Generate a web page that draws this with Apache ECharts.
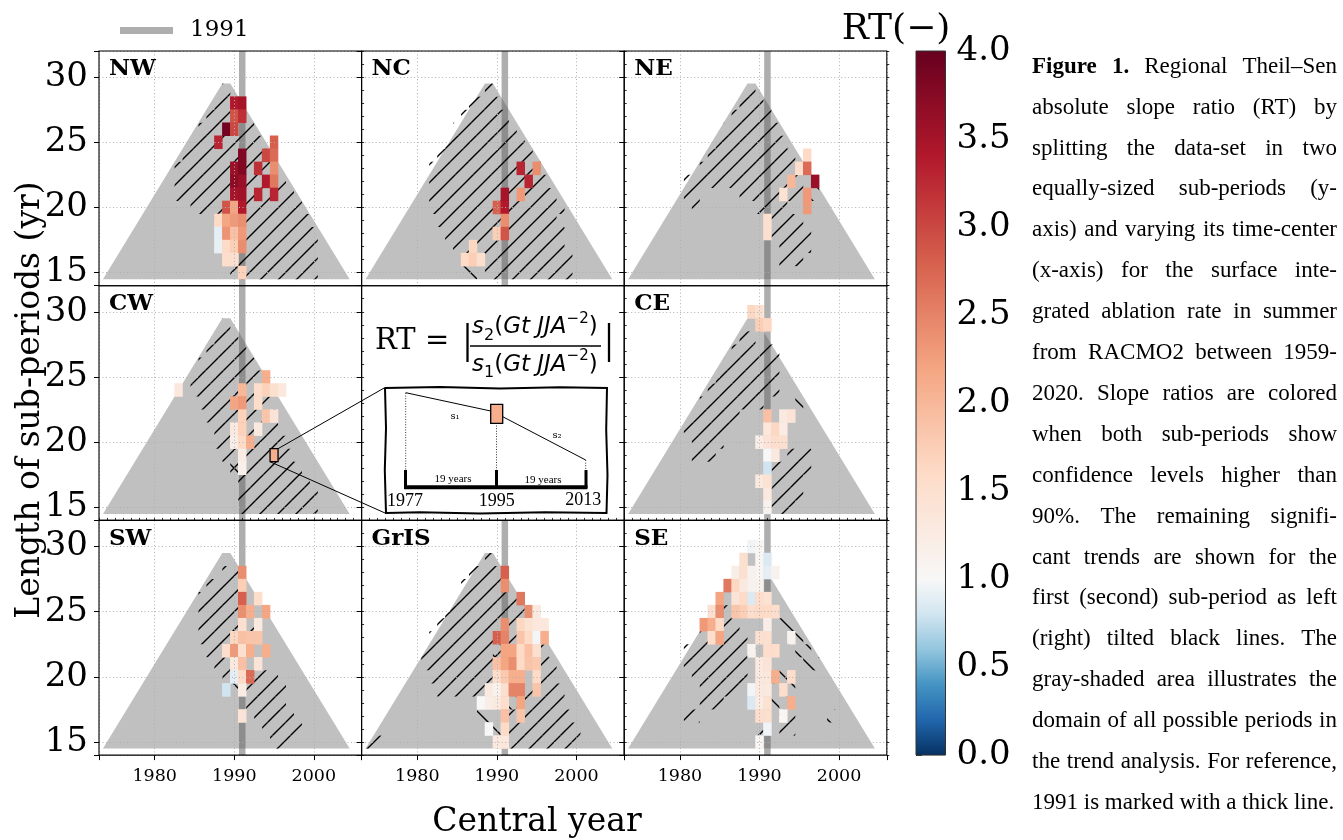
<!DOCTYPE html>
<html>
<head>
<meta charset="utf-8">
<title>Regional Theil–Sen slope ratio</title>
<script src="https://cdn.jsdelivr.net/npm/echarts@6.0.0/dist/echarts.min.js"></script>
<style>
html,body{margin:0;padding:0;background:#fff;}
#chart{width:1343px;height:840px;}
</style>
</head>
<body>
<div id="chart"></div>
<script>
// ================= DATA =================
const REGION_NAMES = ['NW', 'NC', 'NE', 'CW', '', 'CE', 'SW', 'GrIS', 'SE'];
const X_TICKS = [1980, 1990, 2000];
const Y_TICKS = [15, 20, 25, 30];
const CB_TICKS = [0, 0.5, 1, 1.5, 2, 2.5, 3, 3.5, 4];
const X_RANGE = [1973, 2006];
const Y_RANGE = [14, 32];
const CB_RANGE = [0, 4];
const CB_CENTER = 1;
const MARK_YEAR = 1991;
// domain of all possible periods: [central year, length]
const DOMAIN = [[1973.5, 14.5], [2004.5, 14.5], [1989.5, 29.5], [1988.5, 29.5]];
// highlighted example cell (CW): [central year, length, RT]
const INSET_CELL = [1995, 19, 2.1];

// colored cells: [central year, sub-period length, RT]
const NW_CELLS = [
  [1990,28,3.4],[1991,28,3.5],
  [1990,27,2.9],[1991,27,3.2],
  [1989,26,3.9],[1990,26,3.0],
  [1988,25,3.3],[1995,25,2.8],
  [1991,24,3.8],[1994,24,3.0],[1995,24,2.7],
  [1990,23,3.6],[1991,23,3.8],[1993,23,3.2],[1995,23,2.4],
  [1990,22,3.7],[1991,22,3.6],[1994,22,3.4],[1995,22,2.6],
  [1990,21,3.5],[1991,21,3.55],[1993,21,3.3],[1995,21,3.3],
  [1989,20,2.9],[1990,20,2.2],[1991,20,3.4],
  [1988,19,1.6],[1989,19,2.2],[1990,19,2.3],[1991,19,2.4],
  [1988,18,0.9],[1989,18,2.35],[1990,18,1.9],[1991,18,2.3],
  [1988,17,0.92],[1989,17,1.6],[1990,17,1.75],[1991,17,2.4],
  [1989,16,1.55],[1990,16,1.5],
  [1991,15,1.7]
];
const NC_CELLS = [
  [1993,23,3.3],[1995,23,2.4],
  [1994,22,3.3],
  [1991,21,3.5],[1993,21,2.3],
  [1990,20,2.8],[1991,20,3.4],
  [1991,19,2.4],
  [1990,18,1.75],[1991,18,2.9],
  [1987,17,1.65],
  [1986,16,1.6],[1987,16,1.75],[1988,16,1.5]
];
const NE_CELLS = [
  [1996,24,1.6],
  [1995,23,1.55],[1996,23,2.7],
  [1994,22,2.0],[1997,22,3.6],
  [1993,21,1.45],[1996,21,2.3],
  [1996,20,2.3],
  [1991,19,1.5],[1991,18,1.5]
];
const CW_CELLS = [
  [1994,25,2.1],
  [1983,24,1.35],[1991,24,2.0],[1993,24,1.55],[1994,24,1.7],[1995,24,1.5],[1996,24,1.35],
  [1990,23,2.2],[1991,23,2.3],[1993,23,1.55],
  [1991,22,1.7],[1994,22,1.85],[1995,22,1.4],
  [1990,21,1.3],[1991,21,1.7],[1993,21,1.3],
  [1990,20,1.2],[1991,20,1.6],[1992,20,2.1],
  [1991,19,1.25],
  [1991,18,1.15]
];
const CE_CELLS = [
  [1989,30,1.65],[1990,30,1.5],
  [1990,29,1.75],[1991,29,1.65],
  [1991,22,1.9],[1993,22,1.3],[1994,22,1.4],
  [1991,21,1.35],[1992,21,1.65],[1993,21,1.25],
  [1990,20,1.2],[1991,20,1.4],[1992,20,1.55],[1993,20,1.5],
  [1991,19,1.0],[1992,19,1.3],
  [1991,18,0.8],
  [1990,17,1.3],[1991,17,1.45],
  [1991,16,1.3],
  [1991,15,1.1]
];
const SW_CELLS = [
  [1991,28,2.4],
  [1991,27,1.75],
  [1991,26,2.8],[1993,26,1.55],
  [1991,25,2.4],[1992,25,2.1],[1994,25,2.2],
  [1991,24,1.5],[1993,24,1.3],
  [1990,23,1.65],[1991,23,1.9],[1992,23,1.85],[1993,23,1.85],
  [1989,22,1.55],[1990,22,2.3],[1991,22,1.5],[1992,22,2.1],[1994,22,2.1],
  [1990,21,1.3],[1991,21,1.9],[1993,21,1.4],
  [1990,20,0.9],[1991,20,1.6],[1992,20,2.7],
  [1989,19,0.8],[1991,19,1.25],
  [1991,17,1.4]
];
const GRIS_CELLS = [
  [1991,28,2.8],
  [1991,27,2.4],
  [1993,26,2.6],
  [1994,25,2.4],[1995,25,1.3],
  [1991,24,2.4],[1993,24,1.65],[1994,24,1.45],[1995,24,1.35],[1996,24,1.35],
  [1990,23,2.8],[1991,23,2.5],[1993,23,1.85],[1994,23,1.6],[1995,23,0.98],[1996,23,2.1],
  [1991,22,2.2],[1992,22,2.2],[1993,22,1.6],[1994,22,1.9],[1995,22,1.5],
  [1990,21,1.9],[1991,21,2.2],[1992,21,2.4],[1993,21,1.6],[1994,21,1.85],[1995,21,1.8],
  [1990,20,1.55],[1991,20,1.8],[1992,20,2.1],[1993,20,2.1],[1995,20,1.6],
  [1989,19,1.3],[1990,19,1.1],[1991,19,1.5],[1992,19,2.5],[1993,19,2.5],[1995,19,1.85],
  [1988,18,1.0],[1989,18,1.2],[1990,18,1.3],[1991,18,1.55],[1993,18,2.2],
  [1991,17,1.9],[1993,17,1.85],
  [1989,16,1.0],[1991,16,1.6],
  [1990,15,1.3],[1991,15,1.35]
];
const SE_CELLS = [
  [1989,30,0.97],[1990,30,1.05],
  [1988,29,1.5],[1990,29,1.05],[1991,29,0.85],
  [1987,28,1.2],[1988,28,1.5],[1989,28,1.1],[1990,28,1.05],[1991,28,0.9],[1992,28,1.1],
  [1986,27,2.6],[1987,27,1.65],[1988,27,1.3],[1989,27,1.1],[1990,27,1.1],
  [1985,26,2.2],[1987,26,1.4],[1988,26,1.6],[1989,26,0.85],[1990,26,1.55],[1991,26,1.45],
  [1984,25,1.5],[1985,25,2.4],[1987,25,1.85],[1988,25,1.75],[1989,25,1.55],[1990,25,1.6],[1991,25,1.6],[1992,25,1.55],
  [1983,24,2.3],[1984,24,2.1],[1985,24,1.6],[1991,24,1.2],
  [1984,23,1.55],[1985,23,2.2],[1990,23,1.5],[1991,23,1.5],[1994,23,1.1],
  [1989,22,1.1],[1991,22,1.55],[1992,22,1.55],
  [1990,21,1.3],[1991,21,1.4],
  [1990,20,1.3],[1991,20,1.35],[1992,20,2.1],[1994,20,1.55],
  [1989,19,0.97],[1990,19,1.3],[1991,19,1.3],[1993,19,1.55],
  [1989,18,0.85],[1990,18,1.25],[1991,18,1.45],[1994,18,2.1],
  [1990,17,1.55],[1991,17,1.5],[1993,17,1.05],
  [1991,16,0.97],
  [1990,15,1.05]
];

// significant first sub-period only ("/" lines): [first year, last year, length]
const NW_FIRST = [
  [1989,1989,29],[1988,1990,28],[1987,1991,27],[1986,1992,26],[1985,1993,25],[1984,1994,24],
  [1983,1995,23],[1983,1996,22],[1983,1997,21],[1985,1998,20],[1988,1999,19],[1989,2000,18],
  [1990,2000,17],[1990,2000,16],[1990,2000,15]
];
const NC_FIRST = [
  [1989,1989,29],[1987,1990,28],[1986,1991,27],[1985,1992,26],[1984,1993,25],[1983,1994,24],
  [1982,1995,23],[1982,1996,22],[1982,1997,21],[1982,1998,20],[1983,1997,19],[1984,1998,18],
  [1985,1998,17],[1988,1999,16],[1989,1999,15]
];
const NE_FIRST = [
  [1989,1989,29],[1988,1990,28],[1987,1991,27],[1986,1992,26],[1985,1993,25],[1984,1994,24],
  [1983,1994,23],[1981,1995,22],[1981,1982,21],[1988,1995,21],[1982,1982,20],[1990,1993,20],
  [1992,1995,19],[1992,1996,18],[1993,1996,17],[1993,1995,16]
];
const CW_FIRST = [
  [1989,1989,29],[1988,1990,28],[1987,1991,27],[1986,1992,26],[1985,1993,25],[1985,1993,24],
  [1986,1994,23],[1987,1995,22],[1988,1995,21],[1988,1996,20],[1989,1997,19],[1990,1998,18],
  [1991,1999,17],[1991,2000,16],[1991,2000,15]
];
const CE_FIRST = [
  [1988,1989,28],[1987,1992,27],[1986,1992,26],[1985,1992,25],[1984,1992,24],[1983,1990,23],
  [1982,1987,22],[1981,1986,21],[1982,1985,20],[1982,1984,19],[1994,1996,19],[1992,1996,18],
  [1992,1995,17],[1992,1995,16],[1992,1994,15]
];
const SW_FIRST = [
  [1989,1990,28],[1987,1990,27],[1986,1990,26],[1986,1991,25],[1986,1992,24],[1986,1992,23],
  [1987,1991,22],[1988,1990,21],[1989,1989,20],[1992,1995,20],[1992,1996,19],[1992,1996,18],
  [1993,1997,17],[1994,1998,16],[1995,1997,15]
];
const GRIS_FIRST = [
  [1989,1989,29],[1987,1990,28],[1986,1991,27],[1985,1992,26],[1984,1993,25],[1983,1992,24],
  [1982,1992,23],[1981,1992,22],[1996,1996,22],[1981,1990,21],[1996,1997,21],[1982,1989,20],
  [1996,1997,20],[1983,1988,19],[1994,1998,19],[1993,1998,18],[1992,1999,17],[1992,2000,16],
  [1992,2000,15],[1974,1975,15]
];
const SE_FIRST = [
  [1985,1986,25],[1984,1987,24],[1983,1988,23],[1981,1989,22],[1981,1988,21],[1982,1988,20],
  [1983,1987,19],[1983,1985,18],[1981,1982,17],[1993,1994,17],[1990,1990,16],[1993,1994,16]
];
// significant second sub-period only ("\" lines)
const NW_SECOND = [];
const NC_SECOND = [[1986,1987,15]];
const NE_SECOND = [[1997,1997,21]];
const CW_SECOND = [[1990,1990,18]];
const CE_SECOND = [[1995,1995,23]];
const SW_SECOND = [[1990,1990,19]];
const GRIS_SECOND = [[1988,1989,17],[1990,1990,16],[1990,1990,22],[1992,1992,18]];
const SE_SECOND = [[1993,1994,24],[1994,1995,23],[1995,1996,22],[1996,1997,21],[1992,1993,20],[1993,1994,19],[1992,1992,18],[1999,1999,17]];

const CAPTION_LINES = [
  'Figure 1. Regional Theil–Sen',
  'absolute slope ratio (RT) by',
  'splitting the data-set in two',
  'equally-sized sub-periods (y-',
  'axis) and varying its time-center',
  '(x-axis) for the surface inte-',
  'grated ablation rate in summer',
  'from RACMO2 between 1959-',
  '2020. Slope ratios are colored',
  'when both sub-periods show',
  'confidence levels higher than',
  '90%. The remaining signifi-',
  'cant trends are shown for the',
  'first (second) sub-period as left',
  '(right) tilted black lines. The',
  'gray-shaded area illustrates the',
  'domain of all possible periods in',
  'the trend analysis. For reference,',
  '1991 is marked with a thick line.'
];

const PANEL_DATA = {
  NW: [NW_CELLS, NW_FIRST, NW_SECOND],
  NC: [NC_CELLS, NC_FIRST, NC_SECOND],
  NE: [NE_CELLS, NE_FIRST, NE_SECOND],
  CW: [CW_CELLS.concat([INSET_CELL]), CW_FIRST, CW_SECOND],
  CE: [CE_CELLS, CE_FIRST, CE_SECOND],
  SW: [SW_CELLS, SW_FIRST, SW_SECOND],
  GrIS: [GRIS_CELLS, GRIS_FIRST, GRIS_SECOND],
  SE: [SE_CELLS, SE_FIRST, SE_SECOND]
};

// ================= STYLE / LAYOUT =================
const SERIF = 'DejaVu Serif';
const LAYOUT = { left: 99, top: 51, w: 262.6, h: 234.7 };
const CB = { left: 916, top: 51, w: 29.5, h: 704.1 };
const CAP = { left: 1032, right: 1337, top: 66.7, lh: 40.9 };
const DOMAIN_GRAY = '#c0c0c0';
const MARK_COLOR = 'rgba(85,85,85,0.48)';
const GRID_LINE = { color: '#b0b0b0', width: 1, type: [1, 2.5] };
const RDBU_R = ['#053061','#2166ac','#4393c3','#92c5de','#d1e5f0','#f7f7f7','#fddbc7','#f4a582','#d6604d','#b2182b','#67001f'];

function hexToRgb(h) { return [parseInt(h.slice(1,3),16), parseInt(h.slice(3,5),16), parseInt(h.slice(5,7),16)]; }
const RDBU_RGB = RDBU_R.map(hexToRgb);
function rtColor(v) {
  let t = v <= CB_CENTER
    ? 0.5 * (v - CB_RANGE[0]) / (CB_CENTER - CB_RANGE[0])
    : 0.5 + 0.5 * (v - CB_CENTER) / (CB_RANGE[1] - CB_CENTER);
  t = Math.max(0, Math.min(1, t));
  const s = t * (RDBU_RGB.length - 1);
  const i = Math.min(Math.floor(s), RDBU_RGB.length - 2);
  const f = s - i, a = RDBU_RGB[i], b = RDBU_RGB[i + 1];
  return 'rgb(' + a.map((c, k) => Math.round(c + (b[k] - c) * f)).join(',') + ')';
}

function makeHatch(dir) {
  const s = 18, cv = document.createElement('canvas');
  cv.width = s; cv.height = s;
  const g = cv.getContext('2d');
  g.strokeStyle = '#000'; g.lineWidth = 1.4;
  g.beginPath();
  if (dir > 0) {
    g.moveTo(0, s); g.lineTo(s, 0);
    g.moveTo(-2, 2); g.lineTo(2, -2);
    g.moveTo(s - 2, s + 2); g.lineTo(s + 2, s - 2);
  } else {
    g.moveTo(0, 0); g.lineTo(s, s);
    g.moveTo(s - 2, -2); g.lineTo(s + 2, 2);
    g.moveTo(-2, s - 2); g.lineTo(2, s + 2);
  }
  g.stroke();
  return { image: cv, repeat: 'repeat' };
}
const HATCH_FWD = makeHatch(1);
const HATCH_BACK = makeHatch(-1);

// ================= BUILD =================
const grids = [], xAxes = [], yAxes = [], series = [], graphics = [];

function hatchSeries(p, data, pattern) {
  return {
    type: 'custom', coordinateSystem: 'cartesian2d', xAxisIndex: 2 * p, yAxisIndex: 2 * p,
    z: 3, silent: true, data: data,
    renderItem: function (params, api) {
      const a = api.coord([api.value(0) - 0.5, api.value(2) + 0.5]);
      const b = api.coord([api.value(1) + 0.5, api.value(2) - 0.5]);
      return { type: 'rect', shape: { x: a[0], y: a[1], width: b[0] - a[0], height: b[1] - a[1] }, style: { fill: pattern } };
    }
  };
}

REGION_NAMES.forEach(function (name, p) {
  const r = Math.floor(p / 3), c = p % 3;
  const left = LAYOUT.left + c * LAYOUT.w, top = LAYOUT.top + r * LAYOUT.h;
  const bottomRow = r === 2, leftCol = c === 0, empty = !name;
  grids.push({ left: left, top: top, width: LAYOUT.w, height: LAYOUT.h });
  // major x
  xAxes.push({
    gridIndex: p, type: 'value', min: X_RANGE[0], max: X_RANGE[1], splitNumber: 3, z: 6,
    axisLine: { show: false },
    axisTick: { show: bottomRow, length: 5, lineStyle: { color: '#000', width: 1 } },
    axisLabel: { show: bottomRow, formatter: v => X_TICKS.includes(v) ? String(v) : '', fontSize: 17.5, fontFamily: SERIF, color: '#000', margin: 12 },
    splitLine: { show: !empty, lineStyle: GRID_LINE }
  });
  // minor x
  xAxes.push({
    gridIndex: p, type: 'value', min: X_RANGE[0], max: X_RANGE[1], interval: 1, show: bottomRow, z: 6,
    axisLine: { show: false }, axisLabel: { show: false }, splitLine: { show: false },
    axisTick: { show: true, length: 2.5, lineStyle: { color: '#000', width: 0.8 } }
  });
  // major y
  yAxes.push({
    gridIndex: p, type: 'value', min: Y_RANGE[0], max: Y_RANGE[1], splitNumber: 4, z: 6,
    axisLine: { show: false },
    axisTick: { show: true, length: 5, lineStyle: { color: '#000', width: 1 } },
    axisLabel: { show: leftCol, formatter: v => Y_TICKS.includes(v) ? String(v) : '', fontSize: 34, fontFamily: SERIF, color: '#000', margin: 11 },
    splitLine: { show: !empty, lineStyle: GRID_LINE }
  });
  // minor y
  yAxes.push({
    gridIndex: p, type: 'value', min: Y_RANGE[0], max: Y_RANGE[1], interval: 1, z: 6,
    axisLine: { show: false }, axisLabel: { show: false }, splitLine: { show: false },
    axisTick: { show: true, length: 2.5, lineStyle: { color: '#000', width: 0.8 } }
  });
  // frame
  graphics.push({ type: 'rect', z: 20, silent: true, shape: { x: left, y: top, width: LAYOUT.w, height: LAYOUT.h }, style: { fill: 'none', stroke: '#000', lineWidth: 1.1 } });
  if (empty) return;
  graphics.push({ type: 'text', z: 20, silent: true, x: left + 10, y: top + 18.5, style: { text: name, fontFamily: SERIF, fontWeight: 'bold', fontSize: 23, fill: '#000', verticalAlign: 'middle', align: 'left' } });

  const d = PANEL_DATA[name];
  // gray domain
  series.push({
    type: 'custom', coordinateSystem: 'cartesian2d', xAxisIndex: 2 * p, yAxisIndex: 2 * p, z: 1, silent: true,
    data: [[DOMAIN[0][0], DOMAIN[0][1]]],
    renderItem: function (params, api) {
      return { type: 'polygon', shape: { points: DOMAIN.map(pt => api.coord(pt)) }, style: { fill: DOMAIN_GRAY } };
    }
  });
  // 1991 line
  series.push({
    type: 'line', name: String(MARK_YEAR), xAxisIndex: 2 * p, yAxisIndex: 2 * p, z: 2, silent: true,
    symbol: 'none', data: [[MARK_YEAR, Y_RANGE[0]], [MARK_YEAR, Y_RANGE[1]]],
    lineStyle: { color: MARK_COLOR, width: 6.5 }, itemStyle: { color: MARK_COLOR }
  });
  series.push(hatchSeries(p, d[1], HATCH_FWD));
  if (d[2].length) series.push(hatchSeries(p, d[2], HATCH_BACK));
  // RT cells
  series.push({
    type: 'custom', coordinateSystem: 'cartesian2d', xAxisIndex: 2 * p, yAxisIndex: 2 * p, z: 4, silent: true,
    data: d[0],
    renderItem: function (params, api) {
      const a = api.coord([api.value(0) - 0.5, api.value(1) + 0.5]);
      const b = api.coord([api.value(0) + 0.5, api.value(1) - 0.5]);
      return { type: 'rect', shape: { x: a[0] - 0.25, y: a[1] - 0.25, width: b[0] - a[0] + 0.5, height: b[1] - a[1] + 0.5 }, style: { fill: rtColor(api.value(2)) } };
    }
  });
});

// inset geometry (annotation, pixels)
const INSET = { x0: 385, y0: 387.5, x1: 607, y1: 513 };
// highlight + connectors in CW panel
const CW_P = REGION_NAMES.indexOf('CW');
series.push({
  type: 'custom', coordinateSystem: 'cartesian2d', xAxisIndex: 2 * CW_P, yAxisIndex: 2 * CW_P, z: 8, silent: true, clip: false,
  data: [[INSET_CELL[0], INSET_CELL[1]]],
  renderItem: function (params, api) {
    const tl = api.coord([api.value(0) - 0.5, api.value(1) + 0.5]);
    const br = api.coord([api.value(0) + 0.5, api.value(1) - 0.5]);
    return {
      type: 'group', children: [
        { type: 'rect', shape: { x: tl[0], y: tl[1], width: br[0] - tl[0], height: br[1] - tl[1] }, style: { fill: 'none', stroke: '#000', lineWidth: 1.3 } },
        { type: 'line', shape: { x1: br[0], y1: tl[1], x2: INSET.x0, y2: INSET.y0 }, style: { stroke: '#000', lineWidth: 1 } },
        { type: 'line', shape: { x1: tl[0], y1: br[1], x2: INSET.x0, y2: INSET.y1 }, style: { stroke: '#000', lineWidth: 1 } }
      ]
    };
  }
});

// colorbar
grids.push({ left: CB.left, top: CB.top, width: CB.w, height: CB.h });
xAxes.push({ gridIndex: 9, type: 'value', min: 0, max: 1, show: false });
yAxes.push({
  gridIndex: 9, type: 'value', position: 'right', min: CB_RANGE[0], max: CB_RANGE[1], interval: 0.5,
  axisLine: { show: false }, splitLine: { show: false },
  axisTick: { show: true, length: 6, lineStyle: { color: '#333', width: 1 } },
  axisLabel: { formatter: v => CB_TICKS.includes(v) ? v.toFixed(1) : '', fontSize: 34, fontFamily: SERIF, color: '#000', margin: 11 }
});
const cbStops = [];
for (let k = 0; k <= 80; k++) {
  const v = CB_RANGE[0] + (CB_RANGE[1] - CB_RANGE[0]) * k / 80;
  cbStops.push({ offset: k / 80, color: rtColor(v) });
}
series.push({
  type: 'custom', coordinateSystem: 'cartesian2d', xAxisIndex: 18, yAxisIndex: 18, z: 3, silent: true,
  data: [[0, CB_RANGE[0]]],
  renderItem: function (params, api) {
    const a = api.coord([0, CB_RANGE[1]]), b = api.coord([1, CB_RANGE[0]]);
    return { type: 'rect', shape: { x: a[0], y: a[1], width: b[0] - a[0], height: b[1] - a[1] },
      style: { fill: new echarts.graphic.LinearGradient(0, 1, 0, 0, cbStops), stroke: '#333', lineWidth: 1 } };
  }
});

// titles
graphics.push({ type: 'text', silent: true, x: 896, y: 30, style: { text: 'RT(−)', fontFamily: SERIF, fontSize: 36, fill: '#000', align: 'center', verticalAlign: 'middle' } });
graphics.push({ type: 'text', silent: true, x: 30, y: 400, rotation: Math.PI / 2, style: { text: 'Length of sub-periods (yr)', fontFamily: SERIF, fontSize: 33, fill: '#000', align: 'center', verticalAlign: 'middle' } });
graphics.push({ type: 'text', silent: true, x: 537, y: 822, style: { text: 'Central year', fontFamily: SERIF, fontSize: 33, fill: '#000', align: 'center', verticalAlign: 'middle' } });

// formula
const fracRich = {
  it: { fontFamily: 'DejaVu Sans', fontStyle: 'italic', fontSize: 23, lineHeight: 32, verticalAlign: 'middle', fill: '#000' },
  up: { fontFamily: 'DejaVu Sans', fontSize: 23, lineHeight: 32, verticalAlign: 'middle', fill: '#000' },
  sb: { fontFamily: 'DejaVu Sans', fontSize: 16, lineHeight: 16, verticalAlign: 'bottom', fill: '#000' },
  sp: { fontFamily: 'DejaVu Sans', fontSize: 15, lineHeight: 15, verticalAlign: 'top', fill: '#000' }
};
graphics.push({ type: 'text', silent: true, z: 5, x: 375, y: 341, style: { text: 'RT =', fontFamily: SERIF, fontSize: 29, fill: '#000', align: 'left', verticalAlign: 'middle' } });
graphics.push({ type: 'line', silent: true, z: 5, shape: { x1: 467.5, y1: 323, x2: 467.5, y2: 362 }, style: { stroke: '#000', lineWidth: 2.3 } });
graphics.push({ type: 'line', silent: true, z: 5, shape: { x1: 609, y1: 323, x2: 609, y2: 362 }, style: { stroke: '#000', lineWidth: 2.3 } });
graphics.push({ type: 'text', silent: true, z: 5, x: 472, y: 327.5, style: { text: '{it|s}{sb|2}{up|(}{it|Gt JJA}{sp|−2}{up|)}', rich: fracRich, align: 'left', verticalAlign: 'middle' } });
graphics.push({ type: 'line', silent: true, z: 5, shape: { x1: 470, y1: 346, x2: 601, y2: 346 }, style: { stroke: '#000', lineWidth: 1.4 } });
graphics.push({ type: 'text', silent: true, z: 5, x: 472, y: 365, style: { text: '{it|s}{sb|1}{up|(}{it|Gt JJA}{sp|−2}{up|)}', rich: fracRich, align: 'left', verticalAlign: 'middle' } });

// inset schematic
graphics.push({ type: 'polyline', silent: true, z: 5, shape: { points: [
  [INSET.x0, INSET.y0 + 0.5], [440, INSET.y0 - 0.5], [500, INSET.y0 + 1], [560, INSET.y0 - 0.3], [INSET.x1, INSET.y0 + 0.5],
  [INSET.x1 - 0.8, 430], [INSET.x1 + 0.5, 475], [INSET.x1 - 0.5, INSET.y1],
  [545, INSET.y1 - 0.8], [480, INSET.y1 + 0.5], [420, INSET.y1 - 0.7], [INSET.x0 + 1, INSET.y1],
  [INSET.x0 - 0.2, 470], [INSET.x0 + 1, 428], [INSET.x0, INSET.y0 + 0.5]] },
  style: { fill: '#fff', stroke: '#000', lineWidth: 2 } });
const dotted = { stroke: '#000', lineWidth: 0.8, lineDash: [1, 1.6] };
graphics.push({ type: 'line', silent: true, z: 6, shape: { x1: 405.7, y1: 393, x2: 405.7, y2: 470 }, style: dotted });
graphics.push({ type: 'line', silent: true, z: 6, shape: { x1: 496.5, y1: 423, x2: 496.5, y2: 470 }, style: dotted });
graphics.push({ type: 'line', silent: true, z: 6, shape: { x1: 585.7, y1: 460, x2: 585.7, y2: 470 }, style: dotted });
graphics.push({ type: 'line', silent: true, z: 6, shape: { x1: 405.7, y1: 392.7, x2: 490.7, y2: 411 }, style: { stroke: '#000', lineWidth: 1 } });
graphics.push({ type: 'line', silent: true, z: 6, shape: { x1: 502.7, y1: 416.7, x2: 585.7, y2: 460 }, style: { stroke: '#000', lineWidth: 1 } });
graphics.push({ type: 'rect', silent: true, z: 7, shape: { x: 490.7, y: 404.3, width: 12, height: 19 }, style: { fill: rtColor(INSET_CELL[2]), stroke: '#000', lineWidth: 1.3 } });
graphics.push({ type: 'line', silent: true, z: 6, shape: { x1: 404, y1: 487.3, x2: 587.5, y2: 487.3 }, style: { stroke: '#000', lineWidth: 4 } });
[405.5, 496.5, 586].forEach(function (x) {
  graphics.push({ type: 'line', silent: true, z: 6, shape: { x1: x, y1: 470, x2: x, y2: 488 }, style: { stroke: '#000', lineWidth: 3 } });
});
const smallSerif = 'Liberation Serif';
graphics.push({ type: 'text', silent: true, z: 6, x: 455, y: 416, style: { text: 's₁', fontFamily: SERIF, fontSize: 10, fill: '#000', align: 'center', verticalAlign: 'middle' } });
graphics.push({ type: 'text', silent: true, z: 6, x: 557, y: 435, style: { text: 's₂', fontFamily: SERIF, fontSize: 10, fill: '#000', align: 'center', verticalAlign: 'middle' } });
graphics.push({ type: 'text', silent: true, z: 6, x: 453, y: 479, style: { text: '19 years', fontFamily: smallSerif, fontSize: 11, fill: '#000', align: 'center', verticalAlign: 'middle' } });
graphics.push({ type: 'text', silent: true, z: 6, x: 543, y: 480, style: { text: '19 years', fontFamily: smallSerif, fontSize: 11, fill: '#000', align: 'center', verticalAlign: 'middle' } });
[['1977', 405, 501.5], ['1995', 496.7, 501.5], ['2013', 583.3, 500]].forEach(function (t) {
  graphics.push({ type: 'text', silent: true, z: 6, x: t[1], y: t[2], style: { text: t[0], fontFamily: smallSerif, fontSize: 18, fill: '#000', align: 'center', verticalAlign: 'middle' } });
});

// caption (justified)
const mctx = document.createElement('canvas').getContext('2d');
function tw(t, font) { mctx.font = font; return mctx.measureText(t).width; }
CAPTION_LINES.forEach(function (line, i) {
  const words = line.split(' ');
  const fonts = words.map((w, j) => (i === 0 && j < 2) ? 'bold 23px "Liberation Serif"' : '23px "Liberation Serif"');
  const widths = words.map((w, j) => tw(w, fonts[j]));
  const sum = widths.reduce((a, b) => a + b, 0);
  const justify = i < CAPTION_LINES.length - 1 && words.length > 1;
  const gap = justify ? (CAP.right - CAP.left - sum) / (words.length - 1) : tw(' ', fonts[fonts.length - 1]);
  let x = CAP.left;
  words.forEach(function (w, j) {
    graphics.push({ type: 'text', silent: true, x: x, y: CAP.top + i * CAP.lh, style: { text: w, font: fonts[j], fill: '#000', align: 'left', verticalAlign: 'middle' } });
    x += widths[j] + gap;
  });
});

const option = {
  animation: false,
  backgroundColor: '#fff',
  grid: grids,
  xAxis: xAxes,
  yAxis: yAxes,
  legend: {
    data: [String(MARK_YEAR)], left: 115, top: 14, icon: 'rect', itemWidth: 53, itemHeight: 7, selectedMode: false,
    textStyle: { fontFamily: SERIF, fontSize: 23, color: '#000', padding: [0, 0, 0, 12] }
  },
  series: series,
  graphic: { elements: graphics }
};

const chart = echarts.init(document.getElementById('chart'), null, { renderer: 'canvas' });
chart.setOption(option);
</script>
</body>
</html>
